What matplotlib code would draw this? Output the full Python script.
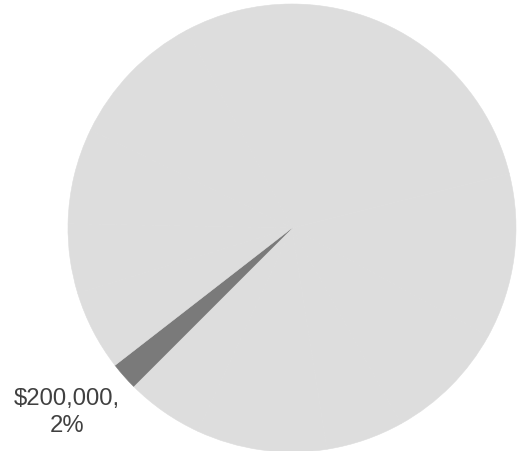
import matplotlib
matplotlib.use("Agg")
import matplotlib.pyplot as plt
import numpy as np

# Slice values (USD), clockwise from 12 o'clock; only one is highlighted/labelled
categories = ["A", "B", "C", "D", "E", "F", "Highlighted", "H", "I", "J", "K", "L"]
values = [2110000, 1190000, 890000, 560000, 940000, 560000, 200000,
          580000, 500000, 690000, 1000000, 780000]
highlight = "Highlighted"

light = "#DDDDDD"
dark = "#7A7A7A"
colors = [dark if c == highlight else light for c in categories]

plt.rcParams['font.family'] = ['Liberation Sans', 'DejaVu Sans']

W, H = 517, 451
fig = plt.figure(figsize=(W / 100, H / 100), dpi=100)
cx, cy, r = 292, 228, 224
ax = fig.add_axes([(cx - r) / W, (H - cy - r) / H, 2 * r / W, 2 * r / H])
wedges, _ = ax.pie(values, colors=colors, startangle=90, counterclock=False,
                   wedgeprops=dict(linewidth=0.4), radius=1)
for wd, c in zip(wedges, colors):
    wd.set_edgecolor(c)
ax.set_xlim(-1, 1)
ax.set_ylim(-1, 1)
ax.axis("off")

idx = categories.index(highlight)
total = sum(values)
val = values[idx]
pct = val / total * 100
w = wedges[idx]
mid = np.deg2rad((w.theta1 + w.theta2) / 2 - 2.1)
d = 1.30
ax.text(d * np.cos(mid), d * np.sin(mid), f"\\${val:,.0f},\n{pct:.0f}%",
        ha="center", va="center", fontsize=17.2, color="#404040",
        linespacing=1.25, clip_on=False)

fig.savefig("out.png", dpi=100, facecolor="white")
